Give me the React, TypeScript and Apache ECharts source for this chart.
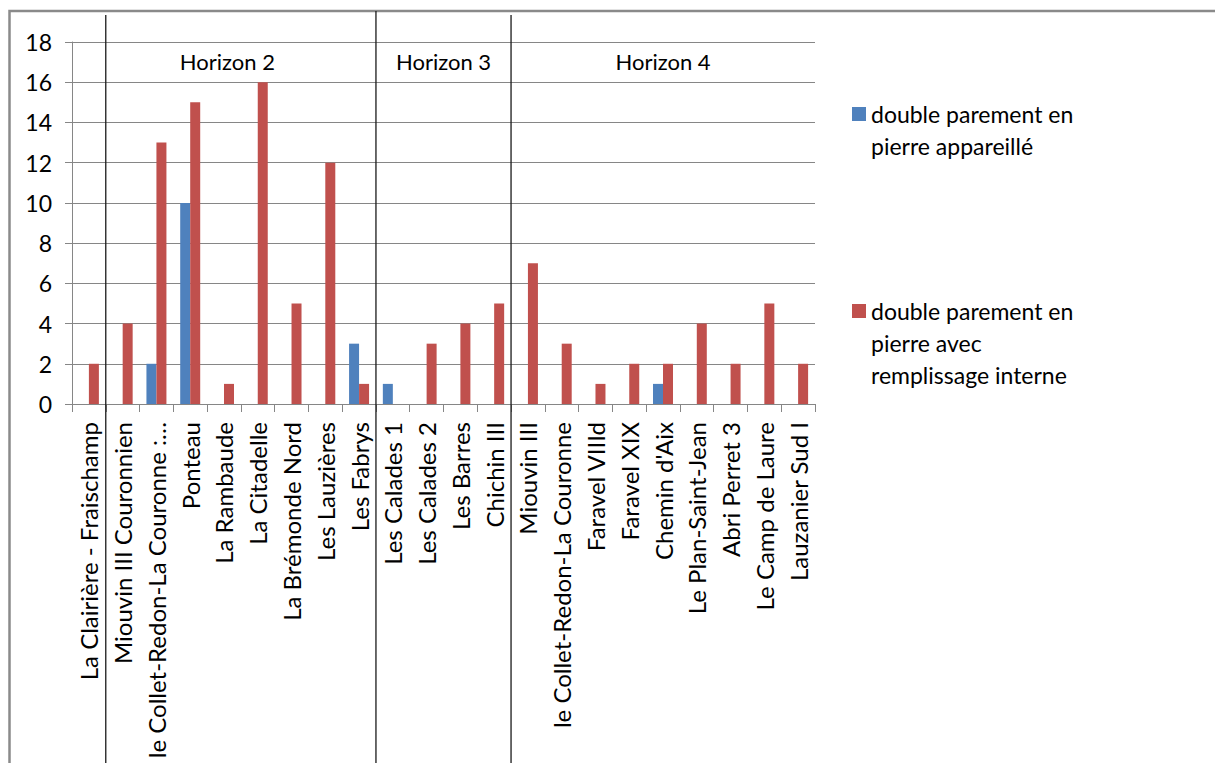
import React, { useEffect, useRef } from "react";
import * as echarts from "echarts";

const categories = [
  "La Clairière - Fraischamp",
  "Miouvin III Couronnien",
  "le Collet-Redon-La Couronne :…",
  "Ponteau",
  "La Rambaude",
  "La Citadelle",
  "La Brémonde Nord",
  "Les Lauzières",
  "Les Fabrys",
  "Les Calades 1",
  "Les Calades 2",
  "Les Barres",
  "Chichin III",
  "Miouvin III",
  "le Collet-Redon-La Couronne",
  "Faravel VIIId",
  "Faravel XIX",
  "Chemin d'Aix",
  "Le Plan-Saint-Jean",
  "Abri Perret 3",
  "Le Camp de Laure",
  "Lauzanier Sud I",
];

const seriesNames = [
  "double parement en pierre appareillé",
  "double parement en pierre avec remplissage interne",
];
const legendLines = [
  ["double parement en", "pierre appareillé"],
  ["double parement en", "pierre avec", "remplissage interne"],
];

const appareilleValues = [0, 0, 2, 10, 0, 0, 0, 0, 3, 1, 0, 0, 0, 0, 0, 0, 0, 1, 0, 0, 0, 0];
const remplissageValues = [2, 4, 13, 15, 1, 16, 5, 12, 1, 0, 3, 4, 5, 7, 3, 1, 2, 2, 4, 2, 5, 2];

const yMin = 0;
const yMax = 18;
const yStep = 2;

const horizonNames = ["Horizon 2", "Horizon 3", "Horizon 4"];
const horizonStarts = [1, 9, 13];
const horizonLabelAt = [4.1, 10.5, 17];
const horizonLabelLevel = 17;

const FONT = "Lato, 'Open Sans', sans-serif";

export default function App() {
  const ref = useRef<HTMLDivElement>(null);

  useEffect(() => {
    document.body.style.margin = "0";
    document.body.style.overflow = "hidden";
    const chart = echarts.init(ref.current!, null, { renderer: "svg" });
    const lineH = 32;
    const sq = 14;
    const legendTops = [114, 311];
    const makeIcon = (n: number) => {
      const h = n * lineH;
      const a = lineH / 2 - sq / 2;
      const b = lineH / 2 + sq / 2;
      return `path://M0,0L0.01,0L0.01,0.01Z M0,${a}L${sq},${a}L${sq},${b}L0,${b}Z M${sq - 0.01},${h - 0.01}L${sq},${h - 0.01}L${sq},${h}Z`;
    };
    const option: any = {
      animation: false,
      backgroundColor: "#ffffff",
      textStyle: { fontFamily: FONT },
      grid: { left: 72, top: 42, right: 400, bottom: 359, containLabel: false },
      legend: [0, 1].map((i) => ({
        data: [seriesNames[i]],
        left: 852,
        top: legendTops[i] - lineH / 2,
        padding: 0,
        orient: "vertical",
        itemWidth: sq,
        itemHeight: legendLines[i].length * lineH,
        icon: makeIcon(legendLines[i].length),
        selectedMode: false,
        formatter: () => legendLines[i].join("\n"),
        textStyle: {
          fontFamily: FONT,
          fontSize: 23,
          color: "#000",
          lineHeight: lineH,
        },
      })),
      xAxis: {
        type: "category",
        data: categories,
        boundaryGap: true,
        axisLine: { lineStyle: { color: "#868686", width: 1 } },
        axisTick: { show: true, alignWithLabel: false, length: 8, lineStyle: { color: "#868686" } },
        axisLabel: {
          rotate: 90,
          interval: 0,
          margin: 18,
          fontFamily: FONT,
          fontSize: 24,
          color: "#000",
        },
      },
      yAxis: {
        type: "value",
        min: yMin,
        max: yMax,
        interval: yStep,
        axisLine: { show: true, lineStyle: { color: "#868686", width: 1 } },
        axisTick: { show: true, length: 7, lineStyle: { color: "#868686" } },
        axisLabel: { fontFamily: FONT, fontSize: 23, color: "#000", margin: 20 },
        splitLine: { show: true, lineStyle: { color: "#868686", width: 1 } },
      },
      graphic: [
        {
          type: "rect",
          shape: { x: 9.5, y: 11, width: 1230, height: 820 },
          style: { fill: "none", stroke: "#8a8a8a", lineWidth: 2.5 },
          silent: true,
        },
      ],
      series: [
        {
          name: seriesNames[0],
          type: "bar",
          data: appareilleValues,
          barWidth: 10,
          barGap: "0%",
          itemStyle: { color: "#4F81BD" },
        },
        {
          name: seriesNames[1],
          type: "bar",
          data: remplissageValues,
          barWidth: 10,
          barGap: "0%",
          itemStyle: { color: "#C0504D" },
        },
        {
          type: "custom",
          silent: true,
          clip: false,
          data: horizonStarts.map((s, i) => [s, horizonLabelAt[i]]),
          encode: { x: 0 },
          renderItem: (params: any, api: any) => {
            const s = api.value(0);
            const c = api.value(1);
            const band = api.size([1, 0])[0];
            const x0 = api.coord([s, 0])[0] - band / 2;
            const ci = Math.floor(c);
            const xl = api.coord([ci, 0])[0] + (c - ci) * band;
            const yLabel = api.coord([s, horizonLabelLevel])[1];
            return {
              type: "group",
              children: [
                {
                  type: "line",
                  shape: { x1: x0, y1: params.dataIndex === 1 ? 11 : 15, x2: x0, y2: 770 },
                  style: { stroke: "#1a1a1a", lineWidth: 1.3 },
                },
                {
                  type: "text",
                  x: xl,
                  y: yLabel - 1,
                  style: {
                    text: horizonNames[params.dataIndex],
                    fontFamily: FONT,
                    fontSize: 22,
                    fill: "#000",
                    align: "center",
                    verticalAlign: "middle",
                  },
                },
              ],
            };
          },
        },
      ],
    };
    chart.setOption(option);
    return () => chart.dispose();
  }, []);

  return <div ref={ref} style={{ width: 1215, height: 763 }} />;
}
